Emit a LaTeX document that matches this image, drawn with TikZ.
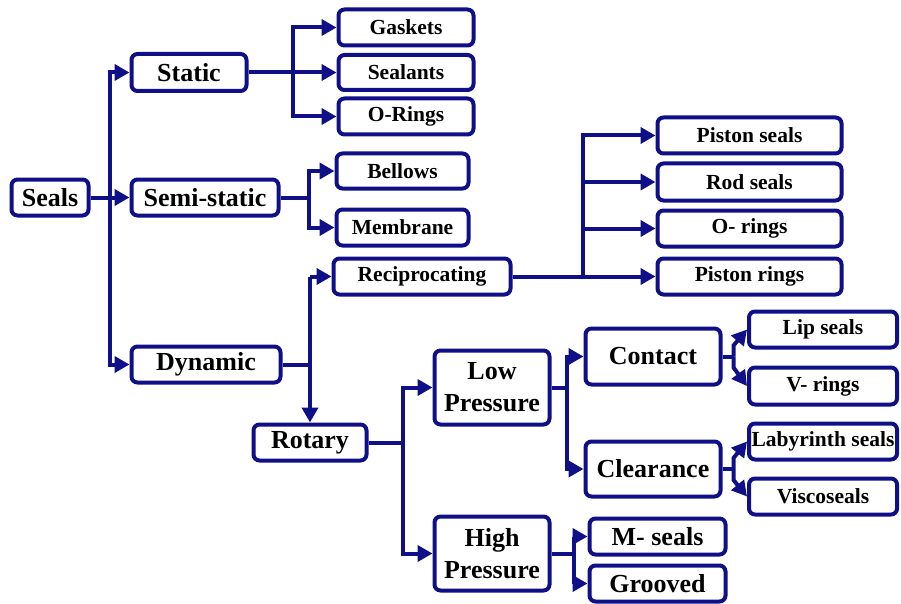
\documentclass[tikz,border=0pt]{standalone}
\usepackage{fontspec}
\setmainfont{Liberation Serif}
\usetikzlibrary{calc, arrows.meta, positioning}

\definecolor{navy}{RGB}{15,15,135}

\tikzset{
  box/.style={draw=navy, line width=4pt, rounded corners=6pt, inner sep=0pt,
    align=center, font=\bfseries\fontsize{26}{32}\selectfont},
  leaf/.style={box, font=\bfseries\fontsize{21.5}{24}\selectfont},
  arr/.style={draw=navy, line width=4pt, -{Triangle[length=15pt,width=16pt]}},
  ln/.style={draw=navy, line width=4pt}
}

\begin{document}
\begin{tikzpicture}[x=1pt, y=-1pt]
  \useasboundingbox (0,0) rectangle (901,604);
  % first level
  \node[box, minimum width=77, minimum height=36] (seals) at (50,197.5) {Seals};
  \node[box, minimum width=115, minimum height=37] (static) at (189,72.5) {Static};
  \node[box, minimum width=147, minimum height=36] (semi) at (205,197.5) {Semi-static};
  \node[box, minimum width=149, minimum height=36] (dynamic) at (206,364.5) {Dynamic};
  % static / semi-static
  \node[leaf, minimum width=135, minimum height=36] (gaskets) at (406,27.5) {Gaskets};
  \node[leaf, minimum width=135, minimum height=35] (sealants) at (406,72.5) {Sealants};
  \node[leaf, minimum width=135, minimum height=36] (orings) at (406,116.5) {O-Rings};
  \node[leaf, minimum width=132, minimum height=35] (bellows) at (402.5,171) {Bellows};
  \node[leaf, minimum width=132, minimum height=36] (membrane) at (402.5,227.5) {Membrane};
  % dynamic
  \node[leaf, minimum width=177, minimum height=36] (recip) at (422,276.5) {Reciprocating};
  \node[leaf, minimum width=184, minimum height=36] (pseals) at (749.5,135.5) {Piston seals};
  \node[leaf, minimum width=184, minimum height=37] (rseals) at (749.5,182) {Rod seals};
  \node[leaf, minimum width=184, minimum height=36] (o2rings) at (749.5,228.5) {O- rings};
  \node[leaf, minimum width=184, minimum height=36] (prings) at (749.5,276.5) {Piston rings};
  \node[box, minimum width=113, minimum height=36] (rotary) at (310,442.5) {Rotary};
  \node[box, minimum width=115, minimum height=74] (low) at (492,387.5) {Low\\Pressure};
  \node[box, minimum width=115, minimum height=74] (high) at (492,553.5) {High\\Pressure};
  \node[box, minimum width=135, minimum height=56] (contact) at (653,356.5) {Contact};
  \node[box, minimum width=135, minimum height=55] (clearance) at (653,469) {Clearance};
  \node[leaf, minimum width=148, minimum height=36] (lip) at (823,329.5) {Lip seals};
  \node[leaf, minimum width=148, minimum height=37] (vrings) at (823,386) {V- rings};
  \node[leaf, minimum width=148, minimum height=36] (laby) at (823,441.5) {Labyrinth seals};
  \node[leaf, minimum width=148, minimum height=36] (visco) at (823,496.5) {Viscoseals};
  \node[box, minimum width=136, minimum height=36] (mseals) at (657.5,536.5) {M- seals};
  \node[box, minimum width=136, minimum height=36] (grooved) at (657.5,583.5) {Grooved};

  % connectors
  \coordinate (j0) at ([xshift=19pt]seals.east);
  \draw[ln] (seals.east) -- (j0);
  \draw[arr] (j0) |- (static.west);
  \draw[arr] (j0) -- (semi.west);
  \draw[arr] (j0) |- (dynamic.west);

  \coordinate (j1) at ([xshift=44pt]static.east);
  \draw[ln] (static.east) -- (j1);
  \draw[arr] (j1) |- (gaskets.west);
  \draw[arr] (j1) -- (sealants.west);
  \draw[arr] (j1) |- (orings.west);

  \coordinate (j2) at ([xshift=28pt]semi.east);
  \draw[ln] (semi.east) -- (j2);
  \draw[arr] (j2) |- (bellows.west);
  \draw[arr] (j2) |- (membrane.west);

  \draw[ln] (dynamic.east) -- (dynamic.east -| rotary.north);
  \draw[arr] (rotary.north |- recip.west) -- (rotary.north);
  \draw[arr] (rotary.north |- recip.west) -- (recip.west);

  \coordinate (j3) at ([xshift=70pt]recip.east);
  \draw[ln] (recip.east) -- (j3);
  \draw[arr] (j3) |- (pseals.west);
  \draw[arr] (j3) |- (rseals.west);
  \draw[arr] (j3) |- (o2rings.west);
  \draw[arr] (j3) -- (prings.west);

  \coordinate (j4) at ([xshift=34pt]rotary.east);
  \draw[ln] (rotary.east) -- (j4);
  \draw[arr] (j4) |- (low.west);
  \draw[arr] (j4) |- (high.west);

  \coordinate (j5) at ([xshift=15pt]low.east);
  \draw[ln] (low.east) -- (j5);
  \draw[arr] (j5) |- (contact.west);
  \draw[arr] (j5) |- (clearance.west);

  \coordinate (j6) at ([xshift=22pt]high.east);
  \draw[ln] (high.east) -- (j6);
  \draw[arr] (j6) |- (mseals.west);
  \draw[arr] (j6) |- (grooved.west);

  \coordinate (j7) at ([xshift=11pt]contact.east);
  \draw[ln] (contact.east) -- (j7);
  \draw[arr] (j7) -- ++(0,-11) -- (lip.west);
  \draw[arr] (j7) -- ++(0,11) -- (vrings.west);

  \coordinate (j8) at ([xshift=11pt]clearance.east);
  \draw[ln] (clearance.east) -- (j8);
  \draw[arr] (j8) -- ++(0,-11) -- (laby.west);
  \draw[arr] (j8) -- ++(0,11) -- (visco.west);
\end{tikzpicture}
\end{document}
